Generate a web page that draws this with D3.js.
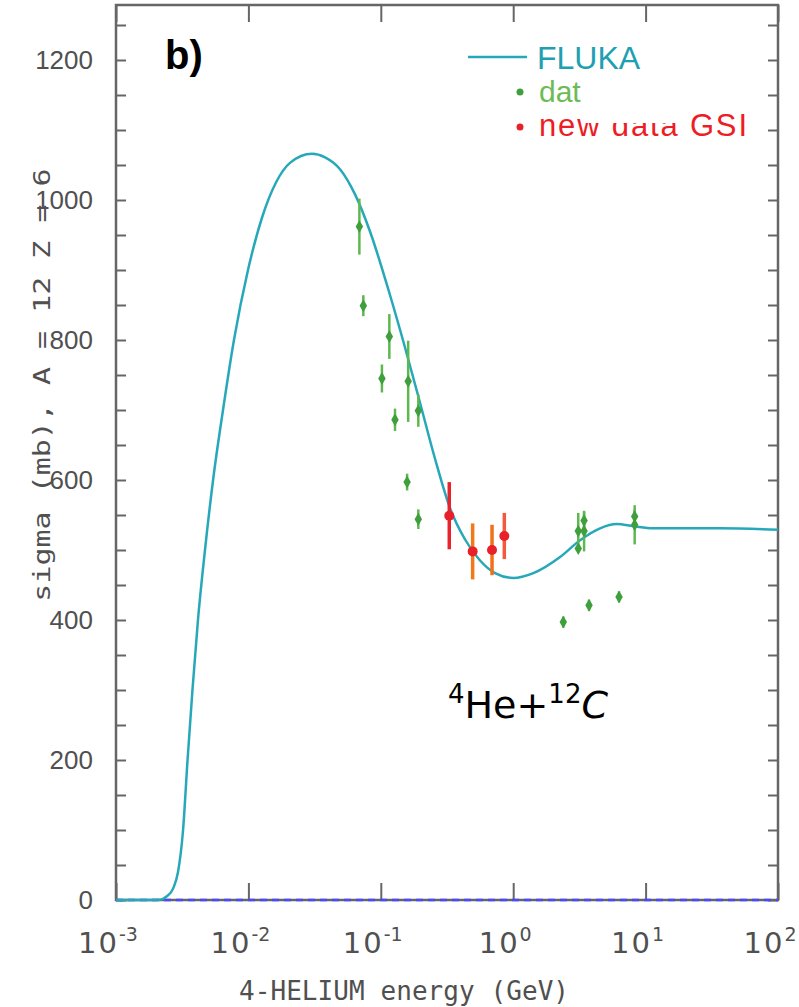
<!DOCTYPE html>
<html>
<head>
<meta charset="utf-8">
<script src="https://cdn.jsdelivr.net/npm/d3@7"></script>
<style>
  body { margin: 0; background: #fff; }
  svg { display: block; }
</style>
</head>
<body>
<script>
// FLUKA calculation (energy in GeV, sigma in mb)
var flukaEnergy = [0.001, 0.00181, 0.00215, 0.00241, 0.00271, 0.00294, 0.00321, 0.00347, 0.00378,
  0.00416, 0.00470, 0.00541, 0.00643, 0.00778, 0.00993, 0.01268, 0.01616, 0.02061, 0.0302, 0.0379,
  0.0492, 0.0639, 0.0829, 0.117, 0.152, 0.198, 0.257, 0.333, 0.433, 0.562, 0.729, 1.00, 1.42,
  2.26, 3.20, 4.53, 6.05, 8.08, 11.4, 36.4, 100];
var flukaSigma = [0, 0, 0.5, 5, 17, 40, 100, 200, 300,
  400, 500, 600, 700, 800, 900, 975, 1025, 1053, 1066, 1061,
  1044, 1008, 955, 865, 790, 710, 630, 560, 515, 485, 467, 460, 467,
  490, 514, 531, 537, 534, 531, 531, 529];

// older measurements ("dat")
var datEnergy = [0.0689, 0.0738, 0.102, 0.116, 0.128, 0.158, 0.161, 0.192, 0.192,
  2.39, 3.10, 3.10, 3.43, 3.43, 3.74, 6.30, 8.27, 8.27];
var datSigma = [962, 849, 745, 805, 686, 597, 741, 699, 544,
  397, 527, 502, 542, 527, 421, 433, 548, 536];
var datError = [40, 15, 20, 32, 16, 12, 58, 23, 14,
  8, 26, 6, 12, 29, 8, 8, 10, 28];

// new data GSI
var gsiEnergy = [0.329, 0.494, 0.692, 0.857];
var gsiSigma = [549, 498, 500, 520];
var gsiError = [48, 40, 36, 33];
var gsiBarColors = ["#e8232c", "#f2791a", "#f0701c", "#f25a3c"];

// the zero line drawn along the bottom
var zeroEnergy = [0.001, 100];
var zeroSigma = [0, 0];

var xDecades = [1e-3, 1e-2, 1e-1, 1e0, 1e1, 1e2];
var xExponents = ["-3", "-2", "-1", "0", "1", "2"];
var yLabels = [0, 200, 400, 600, 800, 1000, 1200];
var yMinorTicks = d3.range(0, 1251, 50);

var svgWidth = 799;
var svgHeight = 1007;
var margin = { top: 5, right: 21, bottom: 107, left: 116 };
var chartWidth = svgWidth - margin.left - margin.right;
var chartHeight = svgHeight - margin.top - margin.bottom;

var svg = d3.select("body").append("svg")
  .attr("width", svgWidth)
  .attr("height", svgHeight);

var chartGroup = svg.append("g")
  .attr("transform", `translate(${margin.left}, ${margin.top})`);

var xLogScale = d3.scaleLog()
  .domain([1e-3, 1e2])
  .range([0, chartWidth]);

// 0.7 px per mb, 0 mb sits on the bottom of the frame
var yLinearScale = d3.scaleLinear()
  .domain([0, chartHeight / 0.7])
  .range([chartHeight, 0]);

var axisColor = "#666";
var textColor = "#505050";

// ticks, all pointing inwards
var leftAxis = d3.axisLeft(yLinearScale).tickValues(yMinorTicks)
  .tickSize(-10).tickPadding(23)
  .tickFormat(d => (yLabels.indexOf(d) >= 0 ? d : ""));
var rightAxis = d3.axisRight(yLinearScale).tickValues(yMinorTicks)
  .tickSize(-10).tickFormat("");
var bottomAxis = d3.axisBottom(xLogScale).tickValues(xDecades)
  .tickSize(-17).tickFormat("");
var topAxis = d3.axisTop(xLogScale).tickValues(xDecades)
  .tickSize(-17).tickFormat("");

function styleAxis(g) {
  g.select(".domain").remove();
  g.selectAll(".tick line").attr("stroke", axisColor).attr("stroke-width", 2);
  g.selectAll(".tick text")
    .attr("fill", textColor)
    .style("font-family", "'Liberation Sans', Arial, sans-serif")
    .style("font-size", "26px");
}

chartGroup.append("g").call(leftAxis).call(styleAxis);
chartGroup.append("g").attr("transform", `translate(${chartWidth}, 0)`).call(rightAxis).call(styleAxis);
chartGroup.append("g").attr("transform", `translate(0, ${chartHeight})`).call(bottomAxis).call(styleAxis);
chartGroup.append("g").call(topAxis).call(styleAxis);

// frame
chartGroup.append("rect")
  .attr("x", 0).attr("y", 0)
  .attr("width", chartWidth).attr("height", chartHeight)
  .attr("fill", "none")
  .attr("stroke", axisColor)
  .attr("stroke-width", 2.5);

// x tick labels 10^n
var xLabels = chartGroup.append("g")
  .selectAll("text")
  .data(xDecades)
  .enter()
  .append("text")
  .attr("x", d => xLogScale(d) - 8)
  .attr("y", chartHeight + 53)
  .attr("text-anchor", "middle")
  .attr("fill", textColor)
  .style("font-family", "'DejaVu Sans', sans-serif");
xLabels.append("tspan").style("font-size", "29px").style("letter-spacing", "2px").text("10");
xLabels.append("tspan").attr("dy", -12).style("font-size", "19px")
  .text((d, i) => xExponents[i]);

// axis titles
svg.append("text")
  .attr("x", 404)
  .attr("y", 1000)
  .attr("text-anchor", "middle")
  .attr("fill", textColor)
  .attr("textLength", 330)
  .style("font-family", "'DejaVu Sans Mono', monospace")
  .style("font-size", "26px")
  .text("4-HELIUM energy (GeV)");

svg.append("text")
  .attr("transform", "translate(50, 385) rotate(-90) scale(1, 0.78)")
  .attr("text-anchor", "middle")
  .attr("fill", textColor)
  .style("font-family", "'DejaVu Sans Mono', monospace")
  .style("font-size", "30px")
  .text("sigma (mb), A = 12 Z = 6");

// zero line (dashed blue)
var line = d3.line()
  .x(d => xLogScale(d[0]))
  .y(d => yLinearScale(d[1]));

chartGroup.append("path")
  .attr("d", line(d3.zip(zeroEnergy, zeroSigma)))
  .attr("fill", "none")
  .attr("stroke", "#4848ff")
  .attr("stroke-width", 2.5)
  .attr("stroke-dasharray", "7,5");

// FLUKA curve
var curveLine = d3.line()
  .x(d => xLogScale(d[0]))
  .y(d => yLinearScale(d[1]))
  .curve(d3.curveMonotoneX);

chartGroup.append("path")
  .attr("d", curveLine(d3.zip(flukaEnergy, flukaSigma)))
  .attr("fill", "none")
  .attr("stroke", "#27a8b8")
  .attr("stroke-width", 2.5);

// old data: error bars and markers
var datPoints = d3.zip(datEnergy, datSigma, datError);
chartGroup.append("g").selectAll("line")
  .data(datPoints)
  .enter()
  .append("line")
  .attr("x1", d => xLogScale(d[0]))
  .attr("x2", d => xLogScale(d[0]))
  .attr("y1", d => yLinearScale(d[1] - d[2]))
  .attr("y2", d => yLinearScale(d[1] + d[2]))
  .attr("stroke", "#5fb84f")
  .attr("stroke-width", 2.5);

chartGroup.append("g").selectAll("path")
  .data(datPoints)
  .enter()
  .append("path")
  .attr("transform", d => `translate(${xLogScale(d[0])}, ${yLinearScale(d[1])})`)
  .attr("d", d3.symbol().type(d3.symbolDiamond).size(48))
  .attr("fill", "#3f9f3c");

// GSI data
var gsiPoints = d3.zip(gsiEnergy, gsiSigma, gsiError);
chartGroup.append("g").selectAll("line")
  .data(gsiPoints)
  .enter()
  .append("line")
  .attr("x1", d => xLogScale(d[0]))
  .attr("x2", d => xLogScale(d[0]))
  .attr("y1", d => yLinearScale(d[1] - d[2]))
  .attr("y2", d => yLinearScale(d[1] + d[2]))
  .attr("stroke", (d, i) => gsiBarColors[i])
  .attr("stroke-width", 3.5);

chartGroup.append("g").selectAll("circle")
  .data(gsiPoints)
  .enter()
  .append("circle")
  .attr("cx", d => xLogScale(d[0]))
  .attr("cy", d => yLinearScale(d[1]))
  .attr("r", 5)
  .attr("fill", "#e8202a");

// legend
var legend = svg.append("g").attr("transform", "translate(468, 57)");
legend.append("line")
  .attr("x1", 0).attr("x2", 59).attr("y1", 0).attr("y2", 0)
  .attr("stroke", "#27a8b8").attr("stroke-width", 2.5);
legend.append("text")
  .attr("x", 69).attr("y", 12)
  .attr("fill", "#1ea0b2")
  .style("font-family", "'Liberation Sans', Arial, sans-serif")
  .style("font-size", "32px")
  .text("FLUKA");
legend.append("circle").attr("cx", 52).attr("cy", 35).attr("r", 3.5).attr("fill", "#3f9f3c");
legend.append("text")
  .attr("x", 71).attr("y", 45)
  .attr("fill", "#6cbb55")
  .style("font-family", "'Liberation Sans', Arial, sans-serif")
  .style("font-size", "30px")
  .text("dat");
legend.append("circle").attr("cx", 52).attr("cy", 70).attr("r", 3.5).attr("fill", "#e8202a");
legend.append("text")
  .attr("x", 71).attr("y", 79)
  .attr("fill", "#ee1c25")
  .attr("textLength", 208)
  .style("font-family", "'Liberation Sans', Arial, sans-serif")
  .style("font-size", "31px")
  .text("new data GSI");
// the patch that hides part of the legend text in the original
legend.append("rect")
  .attr("x", 116).attr("y", 18).attr("width", 98).attr("height", 48)
  .attr("fill", "#fff");

// panel label
svg.append("text")
  .attr("x", 165).attr("y", 69)
  .attr("fill", "#000")
  .style("font-family", "'Liberation Sans', Arial, sans-serif")
  .style("font-weight", "bold")
  .style("font-size", "40px")
  .text("b)");

// reaction label
var reaction = svg.append("text")
  .attr("x", 448).attr("y", 718)
  .attr("fill", "#000")
  .style("font-family", "'DejaVu Sans', sans-serif")
  .style("font-size", "38px");
reaction.append("tspan").attr("dy", -15).style("font-size", "26px").text("4");
reaction.append("tspan").attr("dy", 15).text("He+");
reaction.append("tspan").attr("dy", -15).style("font-size", "26px").text("12");
reaction.append("tspan").attr("dy", 15).style("font-style", "italic").text("C");
</script>
</body>
</html>
